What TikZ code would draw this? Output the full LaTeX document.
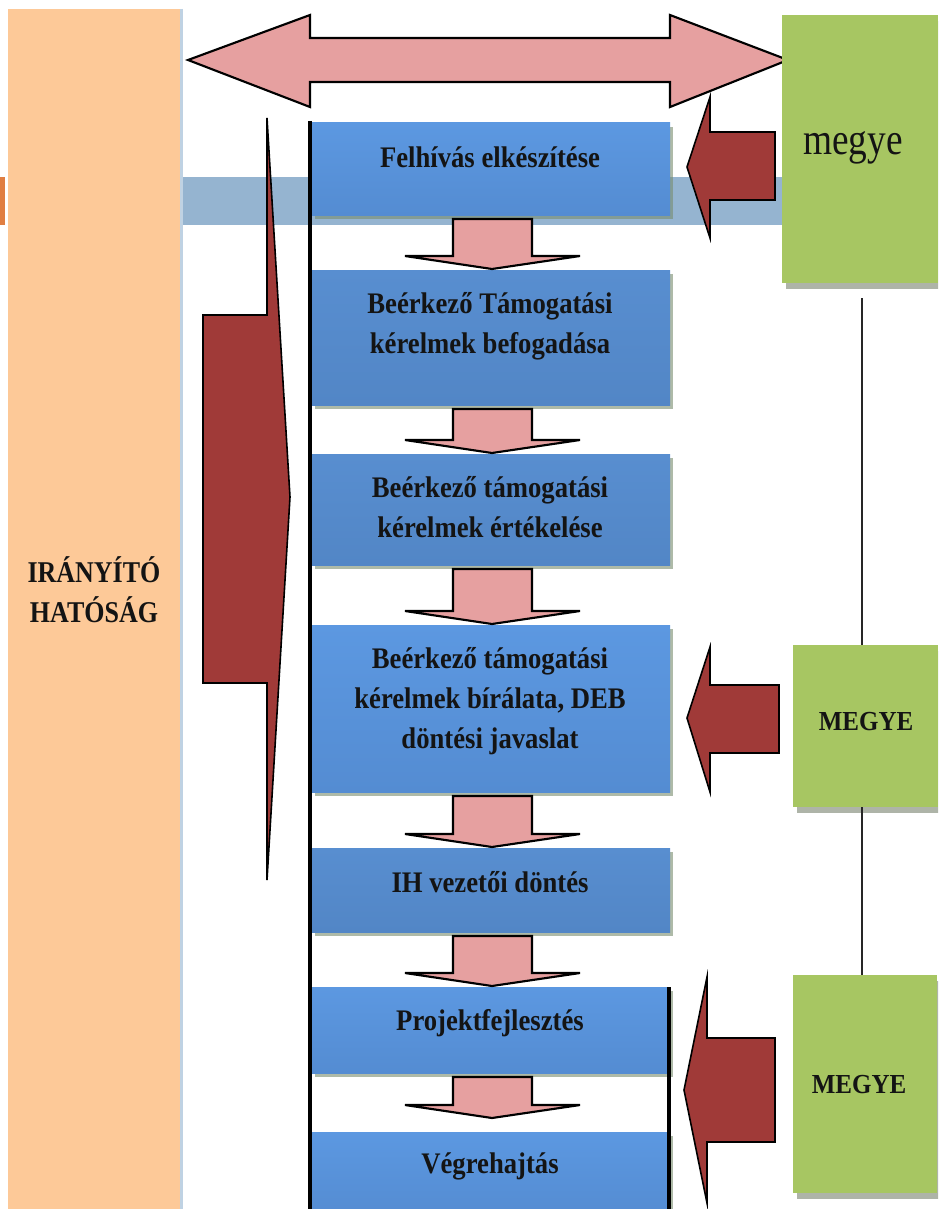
\documentclass[tikz,border=0pt]{standalone}
\usepackage{fontspec}
\setmainfont{Liberation Serif}
\usetikzlibrary{fit,shadows,calc}
\definecolor{peach}{RGB}{253,201,152}
\definecolor{ticko}{RGB}{224,126,66}
\definecolor{band}{RGB}{149,180,208}
\definecolor{pinkarr}{RGB}{230,160,160}
\definecolor{leaf}{RGB}{167,198,98}
\definecolor{darkred}{RGB}{160,58,56}
\definecolor{bluetopA}{RGB}{92,152,225}
\definecolor{bluebotA}{RGB}{84,140,210}
\definecolor{bluetopB}{RGB}{88,142,208}
\definecolor{bluebotB}{RGB}{82,134,198}
\definecolor{boxshadow}{RGB}{120,140,110}
\definecolor{greenshadow}{RGB}{120,130,110}
\definecolor{ink}{RGB}{20,20,20}
\newcommand\vs[2]{\scalebox{1}[#1]{\begin{tabular}[t]{@{}c@{}}#2\end{tabular}}}
\newcommand\dnarr[3]{\draw[pinkblk] ($(#1.south)+(-38,4)$) -- ($(#1.south)+(41,4)$) -- ($(#2.north)+(41,{-13-#3})$) -- ($(#2.north)+(89,{-13-#3})$) -- ($(#2.north)+(1,-#3)$) -- ($(#2.north)+(-86,{-13-#3})$) -- ($(#2.north)+(-38,{-13-#3})$) -- cycle;}
\begin{document}
\begin{tikzpicture}[x=0.75pt,y=-0.75pt,
  stepboxA/.style={inner sep=0pt, outer sep=0pt, top color=bluetopA, bottom color=bluebotA,
     drop shadow={shadow xshift=2pt, shadow yshift=-3pt, fill=boxshadow, opacity=0.6}},
  stepboxB/.style={inner sep=0pt, outer sep=0pt, top color=bluetopB, bottom color=bluebotB,
     drop shadow={shadow xshift=2pt, shadow yshift=-3pt, fill=boxshadow, opacity=0.6}},
  greenbox/.style={inner sep=0pt, outer sep=0pt, fill=leaf,
     drop shadow={shadow xshift=3pt, shadow yshift=-4.5pt, fill=greenshadow, opacity=0.6}},
  pinkblk/.style={fill=pinkarr, draw=black, line width=1.6pt, line join=miter},
  redblk/.style={fill=darkred, draw=black, line width=1.2pt, line join=miter},
  steptext/.style={anchor=base, inner sep=0pt, text=ink, font=\bfseries\fontsize{20}{26.8}\selectfont},
  megyetext/.style={anchor=base, inner sep=0pt, text=ink, font=\bfseries\fontsize{18.75}{24}\selectfont},
  vline/.style={draw=black!85, line width=1.5pt}]
\clip (0,0) rectangle (938,1209);
\fill[white] (0,0) rectangle (938,1209);
% left authority column
\node[fill=peach, inner sep=0pt, outer sep=0pt, fit={(8,9) (180,1215)}] (ih) {};
\draw[line width=2pt, draw=band!60] (181.5,9) -- (181.5,1215);
\fill[ticko] (0,177) rectangle (5,225);
\node[steptext, font=\bfseries\fontsize{19.5}{25.9}\selectfont] (ihtext) at (94,582) {\vs{1.16}{IRÁNYÍTÓ\\HATÓSÁG}};
% blue band
\fill[band] (183,177) rectangle (782,225);
% double arrow
\draw[pinkblk] (188,60) -- (310,15) -- (310,38) -- (670,38) -- (670,15) -- (788,60) -- (670,107) -- (670,82) -- (310,82) -- (310,107) -- cycle;
% green boxes
\node[greenbox, fit={(782,15) (938,283)}] (g1) {};
\node[greenbox, fit={(793,645) (938,807)}] (g2) {};
\node[greenbox, fit={(793,975) (937,1193)}] (g3) {};
\node[anchor=base, inner sep=0pt, text=ink, font=\fontsize{28}{32}\selectfont] (g1t) at (853,155) {\scalebox{1}[1.2]{megye}};
\node[megyetext] (g2t) at (866,730) {\scalebox{1}[1.1]{MEGYE}};
\node[megyetext] (g3t) at (859,1093) {\scalebox{1}[1.1]{MEGYE}};
\coordinate (gx) at (862,0);
\draw[vline] ($(g1.south -| gx)+(0,15)$) -- (g2.north -| gx);
\draw[vline] (g2.south -| gx) -- (g3.north -| gx);
% left chevron
\draw[redblk] (203,315) -- (267,315) -- (267,118) -- (290,497) -- (267,880) -- (267,683) -- (203,683) -- cycle;
% process line
\draw[line width=3.2pt] (310,121) -- (310,1215);
% process boxes
\node[stepboxA, fit={(312,123) (670,215)}] (b1) {};
\node[stepboxB, fit={(312,270) (670,405)}] (b2) {};
\node[stepboxB, fit={(312,454) (670,565)}] (b3) {};
\node[stepboxA, fit={(312,625) (670,792)}] (b4) {};
\node[stepboxB, fit={(312,848) (670,932)}] (b5) {};
\node[stepboxA, fit={(312,987) (670,1073)}] (b6) {};
\node[stepboxA, fit={(312,1132) (670,1215)}] (b7) {};
\draw[line width=3.2pt] (669,987) -- (669,1215);
% texts
\node[steptext] (t1) at (490,167) {\vs{1.12}{Felhívás elkészítése}};
\node[steptext] (t2) at (490,313) {\vs{1.12}{Beérkező Támogatási\\kérelmek befogadása}};
\node[steptext] (t3) at (490,497) {\vs{1.12}{Beérkező támogatási\\kérelmek értékelése}};
\node[steptext] (t4) at (490,668) {\vs{1.12}{Beérkező támogatási\\kérelmek bírálata, DEB\\döntési javaslat}};
\node[steptext] (t5) at (490,892) {\vs{1.12}{IH vezetői döntés}};
\node[steptext] (t6) at (490,1030) {\vs{1.12}{Projektfejlesztés}};
\node[steptext] (t7) at (490,1173) {\vs{1.12}{Végrehajtás}};
% down arrows
\dnarr{b1}{b2}{1}
\dnarr{b2}{b3}{1}
\dnarr{b3}{b4}{1}
\dnarr{b4}{b5}{1}
\dnarr{b5}{b6}{1}
\dnarr{b6}{b7}{14}
% county arrows
\draw[redblk] (687,167) -- (710,97) -- (710,132) -- (775,132) -- (775,200) -- (710,200) -- (710,238) -- cycle;
\draw[redblk] (687,718) -- (710,647) -- (710,685) -- (779,685) -- (779,753) -- (710,753) -- (710,792) -- cycle;
\draw[redblk] (684,1090) -- (707,977) -- (707,1038) -- (775,1038) -- (775,1142) -- (707,1142) -- (707,1203) -- cycle;
\end{tikzpicture}
\end{document}
